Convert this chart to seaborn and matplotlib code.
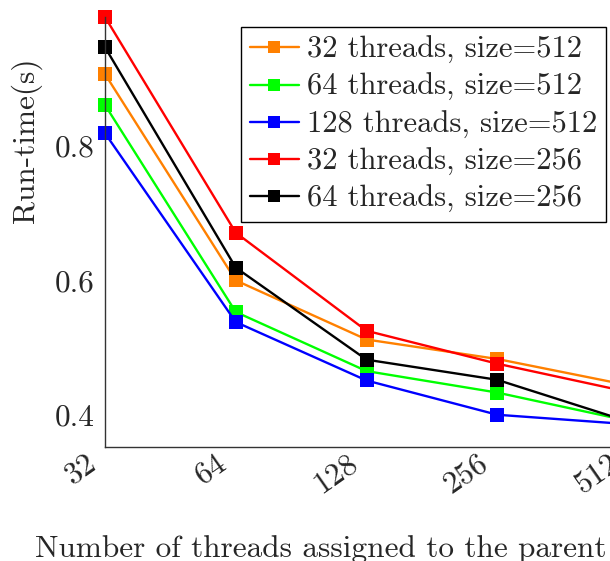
import pandas as pd
import seaborn as sns
import matplotlib.pyplot as plt
from matplotlib.transforms import ScaledTranslation

# data --------------------------------------------------------------- #
threads = [32, 64, 128, 256, 512]
tick_labels = ['32', '64', '128', '256', '512']
series_names = ['32 threads, size=512', '64 threads, size=512', '128 threads, size=512',
                '32 threads, size=256', '64 threads, size=256']
t32_s512 = [0.907, 0.600, 0.512, 0.483, 0.444]
t64_s512 = [0.861, 0.553, 0.465, 0.433, 0.391]
t128_s512 = [0.819, 0.538, 0.451, 0.400, 0.386]
t32_s256 = [0.992, 0.671, 0.525, 0.476, 0.434]
t64_s256 = [0.947, 0.619, 0.482, 0.452, 0.390]
colors = ['#ff8000', '#00ff00', '#0000ff', '#ff0000', '#000000']

rows = []
for name, vals in zip(series_names, [t32_s512, t64_s512, t128_s512, t32_s256, t64_s256]):
    for t, v in zip(threads, vals):
        rows.append({'threads': t, 'runtime': v, 'series': name})
df = pd.DataFrame(rows)

sns.set_theme(style='white')
plt.rcParams['font.family'] = ['cmr10', 'DejaVu Serif']
plt.rcParams['mathtext.fontset'] = 'cm'
plt.rcParams['axes.formatter.use_mathtext'] = True

FS = 22.5
fig = plt.figure(figsize=(6.1, 5.61), dpi=100)
W, H = 610, 561
ax = fig.add_axes([105 / W, 1 - 447 / H, (628 - 105) / W, (447 - 17) / H])

for name, col in zip(series_names, colors):
    sns.lineplot(data=df[df.series == name], x='threads', y='runtime', color=col,
                 marker='s', markersize=9.5, markeredgewidth=0, linewidth=1.7,
                 label=name, ax=ax, clip_on=False)

ax.set_xscale('log', base=2)
ax.set_xlim(32, 512)
ax.set_ylim(0.352, 0.992)
ax.set_xticks(threads)
ax.set_xticklabels(tick_labels, rotation=35, ha='right', va='center',
                   rotation_mode='anchor', fontsize=FS)
ax.minorticks_off()
ax.set_yticks([0.4, 0.6, 0.8])
ax.set_yticklabels(['0.4', '0.6', '0.8'], fontsize=FS)
ax.tick_params(axis='both', direction='inout', length=9, width=0.8, color='#555555')
ax.tick_params(axis='x', pad=3)
ax.tick_params(axis='y', pad=3)
for s in ['top', 'right']:
    ax.spines[s].set_visible(False)
for s in ['left', 'bottom']:
    ax.spines[s].set_color('#333333')
    ax.spines[s].set_linewidth(1.0)
ax.set_xlabel('')
ax.set_ylabel('')

# nudge rotated x labels so their right end sits just left of the tick
shift = ScaledTranslation(-12 / 100, -3 / 100, fig.dpi_scale_trans)
for lab in ax.get_xticklabels():
    lab.set_transform(lab.get_transform() + shift)

fig.text(26 / W, 1 - 140 / H, 'Run-time(s)', rotation=90, ha='center', va='center', fontsize=FS)
fig.text(35 / W, 1 - 557 / H, 'Number of threads assigned to the parent', ha='left',
         va='baseline', fontsize=FS)

leg = ax.legend(loc='upper right', bbox_to_anchor=(606 / W, 1 - 27 / H), bbox_transform=fig.transFigure,
                borderaxespad=0, fontsize=22, frameon=True, fancybox=False, handlelength=1.6,
                handletextpad=0.25, labelspacing=0.3, borderpad=0.3, markerscale=0.9)
leg.get_frame().set_edgecolor('black')
leg.get_frame().set_linewidth(1.0)
leg.get_frame().set_alpha(1)
for t in leg.get_texts():
    t.set_ha('right')

plt.savefig('out.png', dpi=100)
